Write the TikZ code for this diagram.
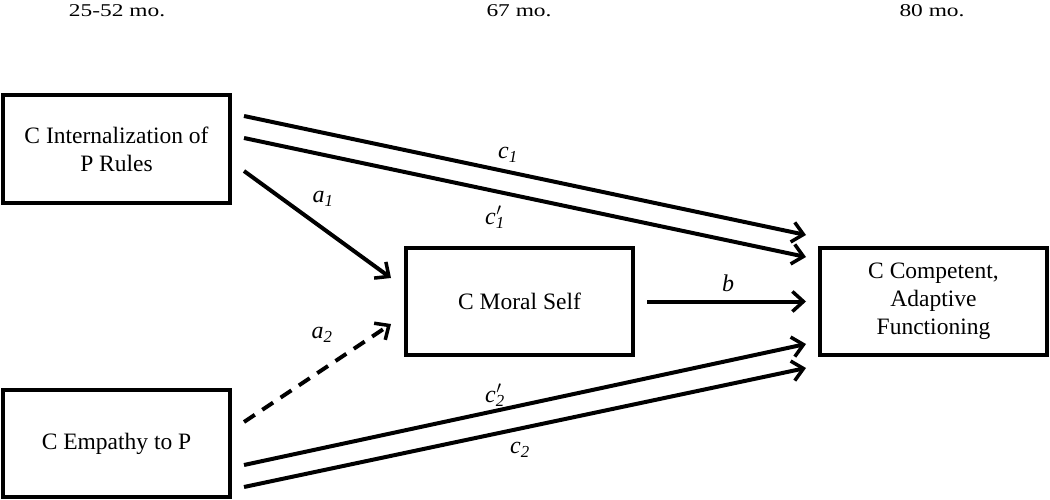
\documentclass[tikz,border=0pt]{standalone}
\usepackage{fontspec}
\setmainfont{Liberation Serif}
\usepackage{graphicx}
\usetikzlibrary{arrows.meta,calc}
\newcommand\plab[3]{\textit{#1}\rlap{\hspace{0.5pt}$^{#3}$}\textsubscript{\textit{#2}}}
\tikzset{
  box/.style={draw, line width=4pt, minimum width=227pt, minimum height=107pt,
    inner sep=0pt, align=center, font=\fontsize{23.5}{28}\selectfont},
  arr/.style={line width=4pt, -{Straight Barb[length=11pt,width=20pt,line width=3.5pt]}},
  dasharr/.style={arr, dash pattern=on 13pt off 9pt},
  lbl/.style={inner sep=0pt, font=\fontsize{24}{24}\selectfont},
  hdr/.style={inner sep=0pt, anchor=base, font=\fontsize{18}{18}\selectfont}
}
\begin{document}
\begin{tikzpicture}[x=1pt,y=-1pt]
\useasboundingbox (0,0) rectangle (1050,500);
% headers
\node[hdr] (h1) at (117,17) {\scalebox{1.3}[1]{25-52 mo.}};
\node[hdr] (h2) at (519,17) {\scalebox{1.3}[1]{67 mo.}};
\node[hdr] (h3) at (932,17) {\scalebox{1.3}[1]{80 mo.}};
% boxes
\node[box] (A) at (116.5,149) {C Internalization of\\P Rules};
\node[box] (E) at (116.5,443.5) {C Empathy to P};
\node[box] (M) at (519.5,301.5) {C Moral Self};
\node[box] (C) at (933.5,301.5) {C Competent,\\Adaptive\\Functioning};
% arrows
\draw[arr] ($(A.east)+(12,-33)$) -- ($(C.west)+(-12,-66.5)$);
\draw[arr] ($(A.east)+(12,-11)$) -- ($(C.west)+(-12,-44.5)$);
\draw[arr] ($(A.east)+(12,22)$) -- ($(M.west)+(-13,-23.5)$);
\draw[dasharr] ($(E.east)+(12,-21.5)$) -- ($(M.west)+(-13,22.5)$);
\draw[arr] ($(M.east)+(12,0)$) -- ($(C.west)+(-12,0)$);
\draw[arr] ($(E.east)+(12,21.5)$) -- ($(C.west)+(-12,42.5)$);
\draw[arr] ($(E.east)+(12,43.5)$) -- ($(C.west)+(-12,66.5)$);
% labels
\node[lbl] (lc1) at (508,155) {\plab{c}{1}{}};
\node[lbl] (lc1p) at (495,217) {\plab{c}{1}{\prime}};
\node[lbl] (la1) at (323,199) {\plab{a}{1}{}};
\node[lbl] (la2) at (322,335) {\plab{a}{2}{}};
\node[lbl] (lb) at (728,283) {\textit{b}};
\node[lbl] (lc2p) at (495,395) {\plab{c}{2}{\prime}};
\node[lbl] (lc2) at (520,450) {\plab{c}{2}{}};
\end{tikzpicture}
\end{document}
